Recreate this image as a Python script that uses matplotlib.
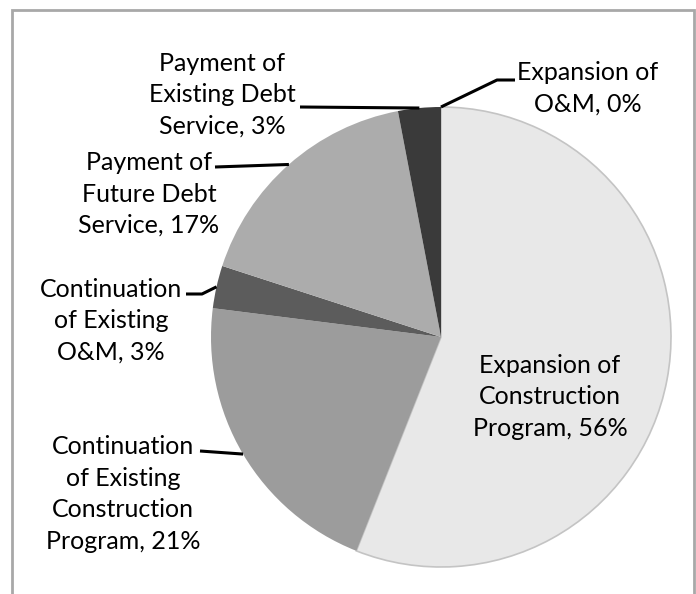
import numpy as np
import matplotlib
matplotlib.use("Agg")
import matplotlib.pyplot as plt

# data (clockwise from 12 o'clock)
labels = ["Expansion of\nO&M, 0%",
          "Expansion of\nConstruction\nProgram, 56%",
          "Continuation\nof Existing\nConstruction\nProgram, 21%",
          "Continuation\nof Existing\nO&M, 3%",
          "Payment of\nFuture Debt\nService, 17%",
          "Payment of\nExisting Debt\nService, 3%"]
shares = [0, 56, 21, 3, 17, 3]
colors = ["#3a3a3a", "#e8e8e8", "#9c9c9c", "#5c5c5c", "#acacac", "#3a3a3a"]

# label placement in pixel space (x, y from top) and elbow points for leaders
text_pos = [(588, 88), (550, 397), (123, 494), (111, 321), (149, 194), (222, 95)]
elbow = [[(515, 80), (497, 80)], None, [(200, 451)], [(186, 294), (202, 294)],
         [(215, 167)], [(300, 107)]]

W, H = 696, 594
cx, cy, R = 441, 337, 230

plt.rcParams['font.family'] = ['Lato', 'DejaVu Sans']

fig = plt.figure(figsize=(W / 100, H / 100), dpi=100)
ax = fig.add_axes([0, 0, 1, 1])

wedges, _ = ax.pie(shares, colors=colors, startangle=90, counterclock=False,
                   radius=R, center=(cx, H - cy),
                   wedgeprops=dict(linewidth=0, edgecolor="none"))
wedges[1].set_edgecolor("#c4c4c4")
wedges[1].set_linewidth(1.2)

ax.set_xlim(0, W)
ax.set_ylim(0, H)
ax.set_aspect("equal")
ax.axis("off")

# outer frame (open at the bottom, cropped)
ax.plot([12, 12, 694, 694], [0, H - 10, H - 10, 0], color="#a8a8a8", lw=2,
        solid_joinstyle="miter", clip_on=False)

for i, w in enumerate(wedges):
    ax.text(text_pos[i][0], H - text_pos[i][1], labels[i], ha="center",
            va="center", multialignment="center", fontsize=18,
            linespacing=1.45, color="black")
    if elbow[i] is None:
        continue
    mid = np.deg2rad((w.theta1 + w.theta2) / 2)
    ex = cx + R * np.cos(mid)
    ey = H - cy + R * np.sin(mid)
    xs = [p[0] for p in elbow[i]] + [ex]
    ys = [H - p[1] for p in elbow[i]] + [ey]
    ax.plot(xs, ys, color="black", lw=2.2, solid_capstyle="butt")

fig.savefig("out.png", dpi=100)
